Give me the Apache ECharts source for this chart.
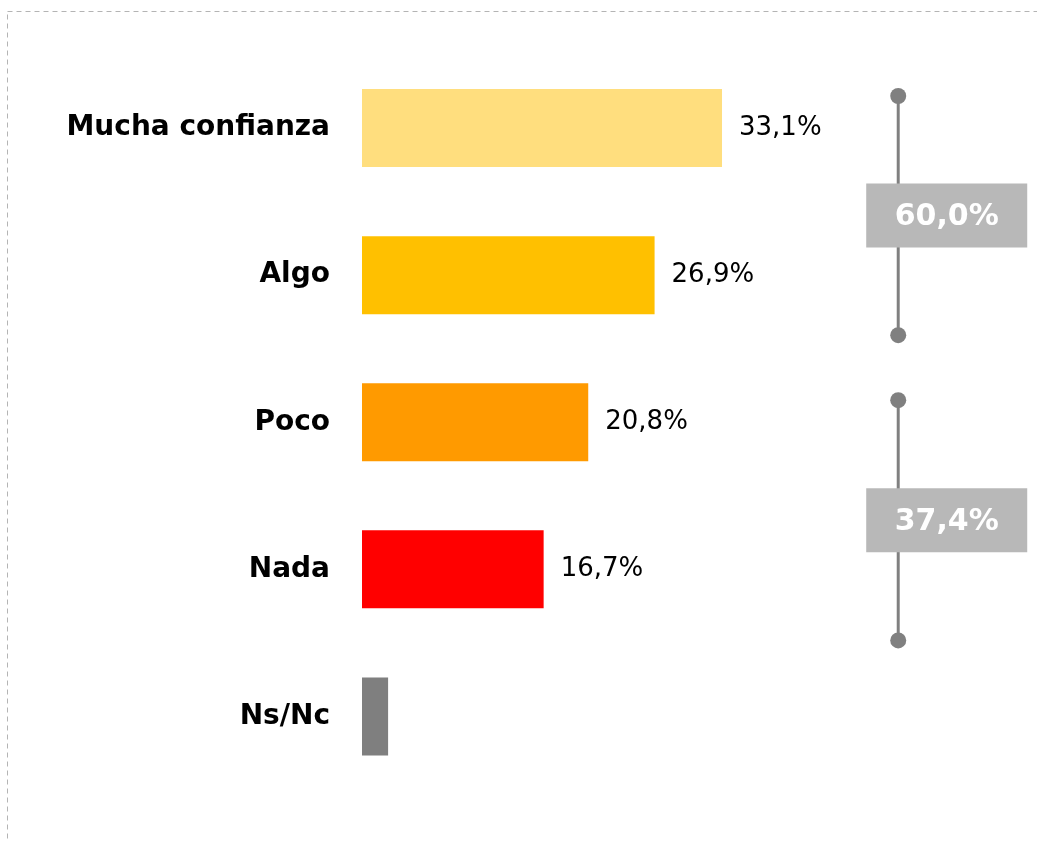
<!DOCTYPE html>
<html>
<head>
<meta charset="utf-8">
<script src="https://cdn.jsdelivr.net/npm/echarts@6/dist/echarts.min.js"></script>
<style>
  html, body { margin: 0; padding: 0; background: #fff; }
  #chart { width: 1037px; height: 842px; }
</style>
</head>
<body>
<div id="chart"></div>
<script>
// datos
const categories = ['Mucha confianza', 'Algo', 'Poco', 'Nada', 'Ns/Nc']
const values = [33.1, 26.9, 20.8, 16.7, 2.4]
const barColors = ['#FFDE7E', '#FFC000', '#FF9A00', '#FF0000', '#7F7F7F']
const showLabel = [true, true, true, true, false]
// agrupaciones: [desde categoria, hasta categoria, total]
const groupFrom = [-0.218, 1.85]
const groupTo = [1.408, 3.483]
const groupTotals = [60.0, 37.4]
const groupX = 49.3

const fmt = v => v.toFixed(1).replace('.', ',') + '%'
const font = '"DejaVu Sans", sans-serif'

let chart = echarts.init(document.getElementById('chart'))

chart.setOption({
  animation: false,
  graphic: [{
    type: 'rect',
    shape: { x: 7.5, y: 11.5, width: 1200, height: 1000 },
    style: { fill: 'none', stroke: '#b4b4b4', lineWidth: 1, lineDash: [5, 4] },
    silent: true
  }],
  grid: { left: 362, right: 22.4, top: 54.5, bottom: 52 },
  xAxis: {
    type: 'value', min: 0, max: 60,
    show: false
  },
  yAxis: {
    type: 'category',
    data: categories,
    inverse: true,
    axisLine: { show: false },
    axisTick: { show: false },
    axisLabel: {
      margin: 32,
      color: '#000',
      fontWeight: 'bold',
      fontSize: 28,
      fontFamily: font,
      padding: [4, 0, 0, 0]
    }
  },
  series: [{
    type: 'bar',
    barWidth: '53%',
    data: values.map((v, i) => ({
      value: v,
      itemStyle: { color: barColors[i] },
      label: { show: showLabel[i] }
    })),
    label: {
      position: 'right',
      distance: 17,
      color: '#000',
      fontSize: 26,
      fontFamily: font,
      padding: [6, 0, 0, 0],
      formatter: p => fmt(p.value)
    }
  }, {
    type: 'custom',
    data: groupTotals.map((t, i) => [groupX, groupFrom[i], groupTo[i], t]),
    renderItem(params, api) {
      let base = api.coord([api.value(0), 0])
      let band = api.size([0, 1])[1]
      let x = base[0]
      let y1 = base[1] + api.value(1) * band
      let y2 = base[1] + api.value(2) * band
      let yc = (y1 + y2) / 2
      return {
        type: 'group',
        children: [
          { type: 'line', shape: { x1: x, y1: y1, x2: x, y2: y2 },
            style: { stroke: '#808080', lineWidth: 3 } },
          { type: 'circle', shape: { cx: x, cy: y1, r: 8 }, style: { fill: '#808080' } },
          { type: 'circle', shape: { cx: x, cy: y2, r: 8 }, style: { fill: '#808080' } },
          { type: 'rect', shape: { x: x - 32, y: yc - 32, width: 161, height: 64 },
            style: { fill: '#B8B8B8' } },
          { type: 'text', x: x + 48.5, y: yc + 2,
            style: {
              text: fmt(api.value(3)), fill: '#fff', fontSize: 30, fontWeight: 'bold',
              fontFamily: font, align: 'center', verticalAlign: 'middle'
            } }
        ]
      }
    }
  }]
})
</script>
</body>
</html>
